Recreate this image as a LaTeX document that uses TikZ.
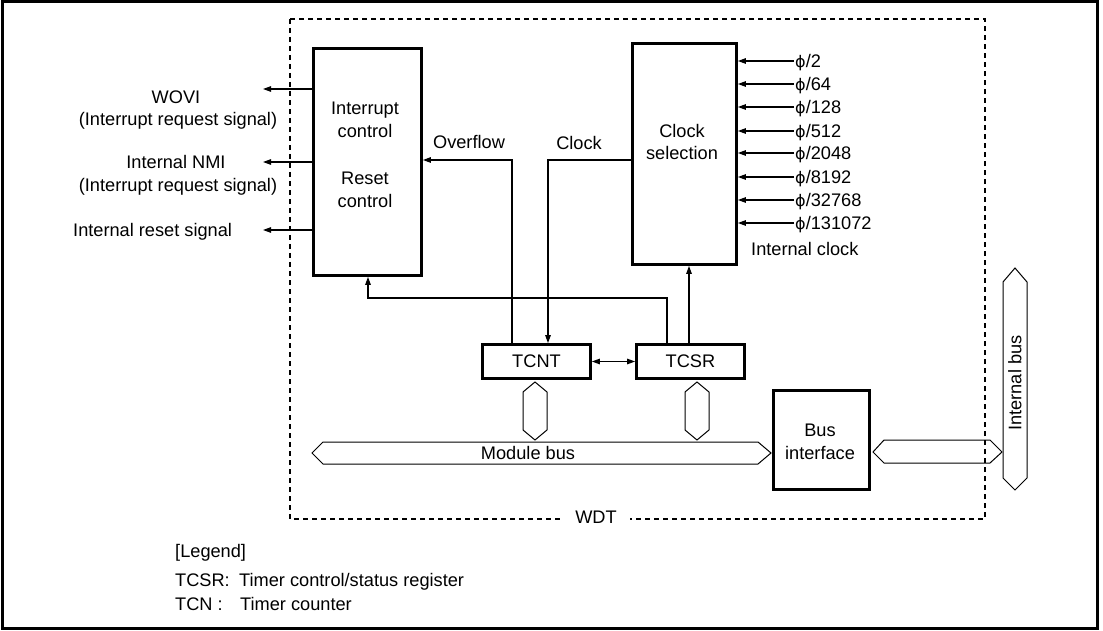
\documentclass[tikz,border=0pt]{standalone}
\usepackage{fontspec}
\setmainfont{Liberation Sans}
\newfontfamily\dvfont{DejaVu Sans}
\usetikzlibrary{arrows.meta}
\begin{document}
\begin{tikzpicture}[x=1pt,y=-1pt,
  box/.style={draw, line width=2.8pt, inner sep=0pt, text height=12.9pt, text depth=0pt, font=\fontsize{18.2}{22}\selectfont},
  lbl/.style={inner sep=0pt, text height=12.9pt, text depth=0pt, font=\fontsize{18.2}{22}\selectfont},
  conn/.style={line width=1.2pt},
  arr/.style={conn, -{Triangle[length=8pt,width=5.5pt]}},
  dbl/.style={conn, {Triangle[length=8pt,width=5.5pt]}-{Triangle[length=8pt,width=5.5pt]}},
  bus/.style={draw, line width=1pt},
  wdtline/.style={line width=1.1pt, dash pattern=on 5pt off 4pt}]
\useasboundingbox (0,0) rectangle (1103,631);
% outer frame
\draw[line width=3pt] (2,2) rectangle (1097,628);
% WDT dashed box
\draw[wdtline] (290,19) rectangle (985,519);
\node[lbl, fill=white, inner xsep=13pt, inner ysep=3pt] (wdt) at (596,517) {WDT};

% main blocks
\node[box, minimum width=108pt, minimum height=227pt] (intc) at (367.5,162) {};
\node[box, minimum width=104pt, minimum height=221pt] (clk) at (684.5,154) {};
\node[box, minimum width=108pt, minimum height=34pt] (tcnt) at (536.5,361.5) {TCNT};
\node[box, minimum width=108pt, minimum height=34pt] (tcsr) at (690.5,361.5) {TCSR};
\node[box, minimum width=96pt, minimum height=99pt] (busif) at (821.5,440) {};

% texts inside blocks
\node[lbl] (intc1) at (365,108) {Interrupt};
\node[lbl] (intc2) at (365,131) {control};
\node[lbl] (intc3) at (365,178) {Reset};
\node[lbl] (intc4) at (365,201) {control};
\node[lbl] (clk1) at (682,131) {Clock};
\node[lbl] (clk2) at (682,153) {selection};
\node[lbl] (bif1) at (820,430) {Bus};
\node[lbl] (bif2) at (820,453) {interface};

% buses
\draw[bus] (312,453) -- (323,442) -- (758,442) -- (771,453) -- (758,464) -- (323,464) -- cycle;
\node[lbl] (mbus) at (528,453) {Module bus};
\draw[bus] (873,452) -- (884,440) -- (990,440) -- (1002,452) -- (990,463) -- (884,463) -- cycle;
\draw[bus] (1015,268) -- (1027,282) -- (1027,478) -- (1015,490) -- (1003,478) -- (1003,282) -- cycle;
\node[lbl, rotate=90] (ibus) at (1015,383) {Internal bus};
\draw[bus] (535,382) -- (547,392) -- (547,430) -- (535,440) -- (523,430) -- (523,392) -- cycle;
\draw[bus] (697,382) -- (709,392) -- (709,430) -- (697,440) -- (685,430) -- (685,392) -- cycle;

% internal connectors
\coordinate (ov) at (512,160);
\draw[arr] (tcnt.north -| ov) -- (ov) -- (ov -| intc.east);
\node[lbl] (ovl) at (469,142) {Overflow};
\coordinate (ck) at (548,160);
\draw[arr] (ck -| clk.west) -- (ck) -- (ck |- tcnt.north);
\node[lbl] (ckl) at (579,143) {Clock};
\coordinate (rs) at (667,298);
\coordinate (rs2) at (368,298);
\draw[arr] (tcsr.north -| rs) -- (rs) -- (rs2) -- (rs2 |- intc.south);
\coordinate (cs) at (689,300);
\draw[arr] (tcsr.north -| cs) -- (clk.south -| cs);
\draw[dbl] (tcnt.east) -- (tcsr.west);

% outputs on the left
\coordinate (o1) at (263,89);
\coordinate (o2) at (263,162);
\coordinate (o3) at (263,230);
\draw[arr] (o1 -| intc.west) -- (o1);
\draw[arr] (o2 -| intc.west) -- (o2);
\draw[arr] (o3 -| intc.west) -- (o3);
\node[lbl] (wovi) at (176,97) {WOVI};
\node[lbl] (wovi2) at (178,119) {(Interrupt request signal)};
\node[lbl] (nmi) at (176,162) {Internal NMI};
\node[lbl] (nmi2) at (178,185) {(Interrupt request signal)};
\node[lbl, anchor=west] (rst) at (73,230) {Internal reset signal};

% clock inputs
\foreach \i/\y/\t in {1/61/2, 2/84/64, 3/107/128, 4/131/512, 5/153/2048, 6/177/8192, 7/200/32768, 8/223/131072}{
  \coordinate (p\i) at (794,\y);
  \draw[arr] (p\i) -- (p\i -| clk.east);
  \node[lbl, anchor=west] (pl\i) at (795,\y) {{\dvfont\fontsize{16}{20}\selectfont ϕ}/\t};
}
\node[lbl, anchor=west] (iclk) at (751,249) {Internal clock};

% legend
\node[lbl, anchor=west] (leg) at (175,551) {[Legend]};
\node[lbl, anchor=west] (leg1a) at (175,580) {TCSR:};
\node[lbl, anchor=west] (leg1b) at (239,580) {Timer control/status register};
\node[lbl, anchor=west] (leg2a) at (175,604) {TCN :};
\node[lbl, anchor=west] (leg2b) at (240,604) {Timer counter};
\end{tikzpicture}
\end{document}
